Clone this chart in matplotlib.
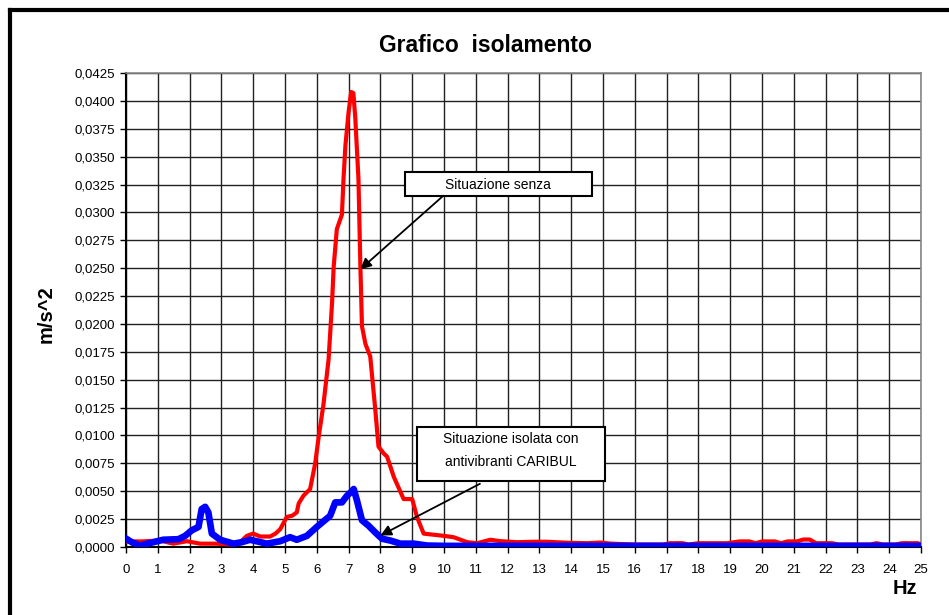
import matplotlib.pyplot as plt
from matplotlib.lines import Line2D
from matplotlib.patches import Rectangle

# frequenze (Hz) e accelerazioni (m/s^2)
hz_senza = [0.0, 0.5, 1.07, 1.49, 1.91, 2.33, 2.8, 3.27, 3.59, 3.80, 4.0, 4.22, 4.53,
            4.7, 4.85, 5.0, 5.06, 5.22, 5.37, 5.43, 5.58, 5.79, 5.95, 6.06, 6.21,
            6.37, 6.48, 6.53, 6.63, 6.79, 6.84, 6.90, 7.0, 7.08, 7.15, 7.21,
            7.31, 7.37, 7.42, 7.53, 7.68, 7.84, 7.94, 8.10, 8.21, 8.42, 8.73,
            9.0, 9.15, 9.36, 9.99, 10.3, 10.73, 11.04, 11.46, 11.78, 12.3, 12.82,
            13.24, 13.87, 14.5, 14.92, 15.24, 16.0, 16.9, 17.1, 17.5, 17.7, 18.0,
            18.9, 19.3, 19.6, 19.8, 20.0, 20.4, 20.6, 20.8, 21.1, 21.3, 21.5,
            21.7, 22.2, 22.4, 23.4, 23.6, 23.8, 24.2, 24.4, 24.9, 25.0]
acc_senza = [0.0005, 0.0005, 0.00058, 0.0003, 0.00052, 0.0003, 0.0003, 0.00023, 0.00043,
             0.001, 0.0012, 0.00094, 0.00094, 0.0012, 0.0016, 0.0024, 0.0027, 0.0028,
             0.0031, 0.0039, 0.0046, 0.0052, 0.0075, 0.0099, 0.0128, 0.0168, 0.0219,
             0.0251, 0.0285, 0.0298, 0.0330, 0.0360, 0.0390, 0.0408, 0.0407, 0.0385,
             0.0330, 0.0252, 0.0198, 0.0182, 0.0171, 0.0123, 0.0090, 0.0084, 0.0081,
             0.0063, 0.0043, 0.0043, 0.0027, 0.0012, 0.001, 0.00088, 0.00043, 0.00034,
             0.00065, 0.00052, 0.00043, 0.00047, 0.00047, 0.00038, 0.00034, 0.0004,
             0.0003, 0.00022, 0.00022, 0.00034, 0.00034, 0.00022, 0.00034, 0.00034,
             0.0005, 0.0005, 0.00034, 0.0005, 0.0005, 0.00034, 0.0005, 0.0005, 0.00067,
             0.00067, 0.00034, 0.00034, 0.00022, 0.00022, 0.00034, 0.00022, 0.00022,
             0.00034, 0.00034, 0.00022]

hz_isolata = [0.0, 0.2, 0.44, 0.86, 1.17, 1.65, 1.86, 2.07, 2.28, 2.38, 2.49, 2.59, 2.70,
              2.96, 3.38, 3.64, 3.90, 4.43, 4.85, 5.16, 5.37, 5.69, 6.0, 6.42, 6.58,
              6.79, 6.95, 7.10, 7.16, 7.26, 7.42, 7.63, 7.84, 8.05, 8.31, 8.63, 9.05,
              9.47, 10.0, 15.0, 20.0, 25.0]
acc_isolata = [0.00075, 0.0004, 0.00013, 0.00043, 0.00065, 0.0007, 0.001, 0.0015, 0.0018,
               0.0034, 0.0036, 0.0031, 0.0012, 0.00065, 0.0003, 0.00043, 0.00065, 0.0003,
               0.00052, 0.00088, 0.00065, 0.001, 0.0018, 0.0028, 0.004, 0.004, 0.0046,
               0.0050, 0.0052, 0.0042, 0.0024, 0.0019, 0.0013, 0.00074, 0.00058, 0.0003,
               0.0003, 0.00013, 0.0001, 0.0001, 0.0001, 0.0001]

y_ticks = [i * 0.0025 for i in range(18)]
x_ticks = list(range(26))

plt.rcParams['font.family'] = ['Liberation Sans', 'DejaVu Sans']

fig = plt.figure(figsize=(9.49, 6.15), dpi=100)
ax = fig.add_axes([126 / 949, 1 - 547 / 615, (921 - 126) / 949, (547 - 73) / 615])

ax.plot(hz_senza, acc_senza, color='#ff0000', lw=3, zorder=3, solid_joinstyle='round')
ax.plot(hz_isolata, acc_isolata, color='#0000ff', lw=4.8, zorder=4, solid_joinstyle='round')

ax.set_xlim(0, 25)
ax.set_ylim(0, 0.0425)
ax.set_xticks(x_ticks)
ax.set_yticks(y_ticks)
ax.set_yticklabels([('%.4f' % v).replace('.', ',') for v in y_ticks])
ax.tick_params(labelsize=9.5, length=4, width=1, colors='black')
ax.tick_params(axis='x', pad=8)
ax.tick_params(axis='y', pad=4)
ax.grid(True, color='#222222', lw=1)
ax.set_axisbelow(True)
for s in ['top', 'right']:
    ax.spines[s].set_color('#888888')
    ax.spines[s].set_linewidth(1.2)
for s in ['left', 'bottom']:
    ax.spines[s].set_linewidth(1.5)

fig.text(485 / 949, 1 - 46 / 615, 'Grafico  isolamento', ha='center', va='center',
         fontsize=16.5, fontweight='bold')
fig.text(46 / 949, 1 - 314 / 615, 'm/s^2', rotation=90, ha='center', va='center',
         fontsize=14.5, fontweight='bold')
fig.text(905 / 949, 1 - 588 / 615, 'Hz', ha='center', va='center',
         fontsize=14.5, fontweight='bold')

# cornice esterna
fig.add_artist(Line2D([10 / 949, 10 / 949], [0, 1 - 10 / 615], color='black', lw=3))
fig.add_artist(Line2D([10 / 949, 1], [1 - 10 / 615, 1 - 10 / 615], color='black', lw=3))

# riquadri delle didascalie
ax.add_patch(Rectangle((8.77, 0.0315), 14.65 - 8.77, 0.03365 - 0.0315,
                       fc='white', ec='black', lw=1.5, zorder=6))
ax.text(11.70, 0.0325, 'Situazione senza', ha='center', va='center',
        fontsize=10, zorder=7)
ax.annotate('', xy=(7.37, 0.0249), xytext=(9.98, 0.0315),
            arrowprops=dict(arrowstyle='-|>', color='black', lw=1.3, mutation_scale=16,
                            shrinkA=0, shrinkB=0), zorder=6)

ax.add_patch(Rectangle((9.15, 0.00596), 15.06 - 9.15, 0.0108 - 0.00596,
                       fc='white', ec='black', lw=1.5, zorder=6))
ax.text(12.1, 0.00865, 'Situazione isolata con\nantivibranti CARIBUL', ha='center',
        va='center', fontsize=10, linespacing=1.8, zorder=7)
ax.annotate('', xy=(8.0, 0.00103), xytext=(11.13, 0.00567),
            arrowprops=dict(arrowstyle='-|>', color='black', lw=1.3, mutation_scale=16,
                            shrinkA=0, shrinkB=0), zorder=6)

fig.savefig('out.png', dpi=100)
